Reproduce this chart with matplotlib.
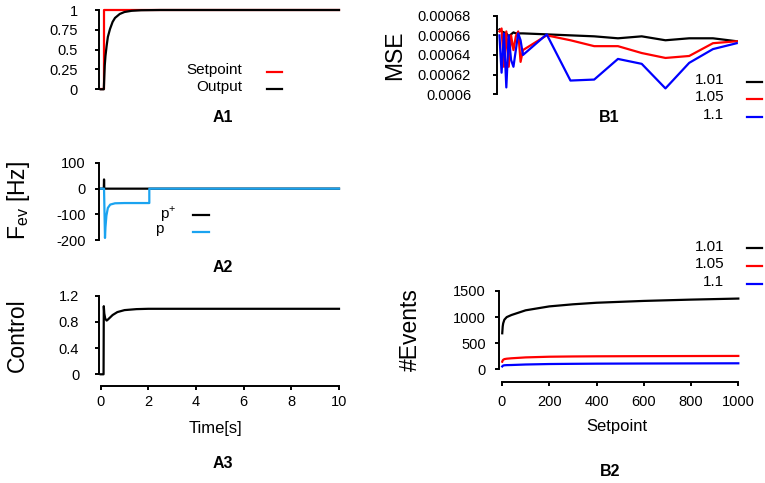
import matplotlib
matplotlib.use('Agg')
import matplotlib.pyplot as plt
from matplotlib.lines import Line2D

plt.rcParams['font.family'] = ['Liberation Sans', 'DejaVu Sans']
plt.rcParams['mathtext.fontset'] = 'custom'
plt.rcParams['mathtext.rm'] = 'Liberation Sans'
plt.rcParams['axes.unicode_minus'] = False

W, H = 765, 483

# A1: setpoint and output step response
t_set = [0, 0.14, 0.14, 10]
setpoint = [0, 0, 1, 1]
t_out = [0, 0.13, 0.17, 0.2, 0.25, 0.3, 0.39, 0.5, 0.6, 0.8, 1.0, 1.3, 1.7, 2.5, 10]
output = [0, 0, 0.3, 0.42, 0.55, 0.66, 0.76, 0.85, 0.9, 0.95, 0.975, 0.99, 0.997, 1, 1]

# A2: event frequencies
t_pplus = [0, 0.13, 0.14, 0.15, 2.04, 10]
f_pplus = [0, 0, 36, 0, 0, 0]
t_pminus = [0, 0.14, 0.18, 0.2, 0.24, 0.3, 0.4, 0.6, 1.0, 2.04, 2.04, 10]
f_pminus = [0, 0, -192, -150, -105, -75, -62, -57, -56, -56, 0, 0]

# A3: control signal
t_ctrl = [0, 0.12, 0.13, 0.15, 0.19, 0.25, 0.3, 0.4, 0.5, 0.7, 1.0, 1.5, 2, 10]
control = [0, 0, 1.04, 0.93, 0.85, 0.82, 0.835, 0.87, 0.905, 0.95, 0.98, 0.995, 1, 1]

# B1: MSE vs setpoint
sp_mse = [1, 10, 20, 30, 40, 50, 60, 70, 80, 90, 100, 200, 300, 400, 500, 600, 700, 800, 900, 1000]
mse_101 = [0.000666, 0.000664, 0.000663, 0.000662, 0.000659, 0.000661, 0.000663, 0.000662, 0.000662, 0.000662,
           0.000662, 0.000661, 0.00066, 0.000659, 0.000657, 0.000659, 0.000655, 0.000657, 0.000657, 0.000654]
mse_105 = [0.000664, 0.000667, 0.000628, 0.000664, 0.000628, 0.00066, 0.000645, 0.000659, 0.000664, 0.000633,
           0.000645, 0.00066, 0.000655, 0.000649, 0.000649, 0.000642, 0.000637, 0.000639, 0.000652, 0.000654]
mse_11 = [0.00066, 0.000622, 0.000662, 0.000607, 0.00066, 0.000635, 0.000628, 0.000645, 0.000662, 0.000655,
          0.00064, 0.000661, 0.000614, 0.000615, 0.000636, 0.000631, 0.000606, 0.000632, 0.000646, 0.000652]

# B2: number of events vs setpoint
sp_ev = [1, 3, 5, 10, 20, 40, 100, 200, 300, 400, 600, 800, 1000]
ev_101 = [690, 820, 880, 950, 1000, 1040, 1130, 1205, 1245, 1275, 1310, 1335, 1355]
ev_105 = [146, 170, 182, 195, 203, 211, 228, 241, 246, 249, 252, 254, 256]
ev_11 = [55, 65, 72, 77, 80, 82, 92, 101, 105, 108, 111, 113, 115]

colors = {'1.01': 'black', '1.05': '#ff0000', '1.1': '#0000ff'}
light_blue = '#1aa3f0'


def box(left, right, top, bottom):
    return [left / W, 1 - bottom / H, (right - left) / W, (bottom - top) / H]


def fx(x):
    return x / W


def fy(y):
    return 1 - y / H


def style_axes(ax, yticks, ypad, xticks=None, xoff=0, xpad=4, yoff=1.5):
    for s in ['top', 'right']:
        ax.spines[s].set_visible(False)
    ax.spines['left'].set_position(('outward', yoff))
    ax.spines['left'].set_bounds(yticks[0], yticks[-1])
    ax.spines['left'].set_linewidth(1.4)
    ax.set_yticks(yticks)
    ax.tick_params(axis='y', length=3, width=1.4, pad=ypad, labelsize=10.5)
    if xticks is None:
        ax.spines['bottom'].set_visible(False)
        ax.set_xticks([])
    else:
        ax.spines['bottom'].set_position(('outward', xoff))
        ax.spines['bottom'].set_bounds(xticks[0], xticks[-1])
        ax.spines['bottom'].set_linewidth(1.4)
        ax.set_xticks(xticks)
        ax.tick_params(axis='x', length=3, width=1.4, pad=xpad, labelsize=10.5)
    ax.patch.set_visible(False)


def legend_key(fig, text, x_text, y, x0, x1, color):
    fig.text(fx(x_text), fy(y), text, ha='right', va='center', fontsize=11)
    fig.add_artist(Line2D([fx(x0), fx(x1)], [fy(y + 1.5), fy(y + 1.5)], color=color, lw=1.6))


fig = plt.figure(figsize=(W / 100, H / 100), dpi=100)

# A1
ax = fig.add_axes(box(100.7, 339, 10, 89.3))
ax.plot(t_set, setpoint, color='#ff0000', lw=1.6, clip_on=False)
ax.plot(t_out, output, color='black', lw=1.6, clip_on=False)
ax.set_xlim(0, 10)
ax.set_ylim(0, 1)
style_axes(ax, [0, 0.25, 0.5, 0.75, 1], 12)
ax.set_yticklabels(['0', '0.25', '0.5', '0.75', '1'])
legend_key(fig, 'Setpoint', 242, 70, 267, 282, '#ff0000')
legend_key(fig, 'Output', 242, 87, 267, 282, 'black')
fig.text(fx(223), fy(118), 'A1', ha='center', va='center', fontsize=11.5, fontweight='bold')

# A2
ax = fig.add_axes(box(100.7, 339, 163, 240))
ax.plot(t_pplus, f_pplus, color='black', lw=1.6, clip_on=False)
ax.plot(t_pminus, f_pminus, color=light_blue, lw=1.6, clip_on=False)
ax.set_xlim(0, 10)
ax.set_ylim(-200, 100)
style_axes(ax, [-200, -100, 0, 100], 6.3)
fig.text(fx(176), fy(214), 'p$^{\\mathregular{+}}$', ha='right', va='center', fontsize=11)
fig.text(fx(155), fy(229), 'p', ha='left', va='center', fontsize=11)
fig.add_artist(Line2D([fx(193), fx(209)], [fy(215), fy(215)], color='black', lw=1.6))
fig.add_artist(Line2D([fx(193), fx(209)], [fy(232), fy(232)], color=light_blue, lw=1.6))
fig.text(fx(18), fy(200), 'F$_{\\mathregular{ev}}$ [Hz]', rotation=90, ha='center', va='center', fontsize=16.5)
fig.text(fx(223), fy(268), 'A2', ha='center', va='center', fontsize=11.5, fontweight='bold')

# A3
ax = fig.add_axes(box(100.7, 339, 295.7, 374.3))
ax.plot(t_ctrl, control, color='black', lw=1.6, clip_on=False)
ax.set_xlim(0, 10)
ax.set_ylim(0, 1.2)
style_axes(ax, [0, 0.4, 0.8, 1.2], 11, xticks=[0, 2, 4, 6, 8, 10], xoff=8.4, xpad=3.5)
ax.set_yticklabels(['0', '0.4', '0.8', '1.2'])
fig.text(fx(17), fy(335), 'Control', rotation=90, ha='center', va='center', fontsize=16.5)
fig.text(fx(215), fy(428), 'Time[s]', ha='center', va='center', fontsize=12)
fig.text(fx(223), fy(463), 'A3', ha='center', va='center', fontsize=11.5, fontweight='bold')

# B1
ax = fig.add_axes(box(499.2, 736.7, 15.7, 94.3))
ax.plot(sp_mse, mse_101, color=colors['1.01'], lw=1.6, clip_on=False)
ax.plot(sp_mse, mse_105, color=colors['1.05'], lw=1.6, clip_on=False)
ax.plot(sp_mse, mse_11, color=colors['1.1'], lw=1.6, clip_on=False)
ax.set_xlim(0, 1000)
ax.set_ylim(0.0006, 0.00068)
style_axes(ax, [0.0006, 0.00062, 0.00064, 0.00066, 0.00068], 15.5, yoff=1.8)
ax.set_yticklabels(['0.0006', '0.00062', '0.00064', '0.00066', '0.00068'])
legend_key(fig, '1.01', 724, 80, 747, 762, colors['1.01'])
legend_key(fig, '1.05', 724, 97, 747, 762, colors['1.05'])
legend_key(fig, '1.1', 724, 115, 747, 762, colors['1.1'])
fig.text(fx(395), fy(55), 'MSE', rotation=90, ha='center', va='center', fontsize=16.5)
fig.text(fx(609), fy(118), 'B1', ha='center', va='center', fontsize=11.5, fontweight='bold')

# B2
ax = fig.add_axes(box(502, 738.3, 291, 369.3))
ax.plot(sp_ev, ev_101, color=colors['1.01'], lw=1.6, clip_on=False)
ax.plot(sp_ev, ev_105, color=colors['1.05'], lw=1.6, clip_on=False)
ax.plot(sp_ev, ev_11, color=colors['1.1'], lw=1.6, clip_on=False)
ax.set_xlim(0, 1000)
ax.set_ylim(0, 1500)
style_axes(ax, [0, 500, 1000, 1500], 6.7, xticks=[0, 200, 400, 600, 800, 1000], xoff=8.9, xpad=6.3, yoff=2)
legend_key(fig, '1.01', 724, 247, 747, 762, colors['1.01'])
legend_key(fig, '1.05', 724, 264, 747, 762, colors['1.05'])
legend_key(fig, '1.1', 724, 282, 747, 762, colors['1.1'])
fig.text(fx(410), fy(330), '#Events', rotation=90, ha='center', va='center', fontsize=16.5)
fig.text(fx(617), fy(426), 'Setpoint', ha='center', va='center', fontsize=12)
fig.text(fx(610), fy(472), 'B2', ha='center', va='center', fontsize=11.5, fontweight='bold')

fig.savefig('out.png', dpi=100)
